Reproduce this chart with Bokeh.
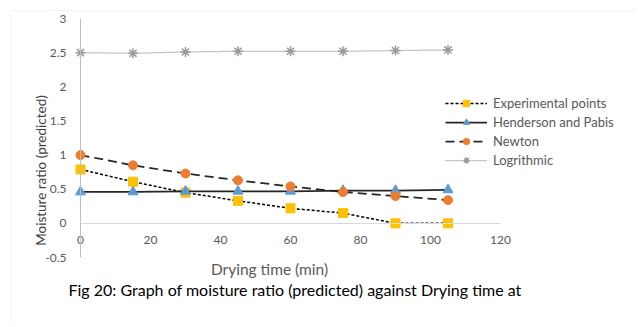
import math
from bokeh.plotting import figure
from bokeh.models import Range1d, FixedTicker, Legend, LegendItem, Label, BoxAnnotation
from bokeh.embed import file_html
from bokeh.resources import INLINE

# ---- data ----
time_min = [0, 15, 30, 45, 60, 75, 90, 105]
experimental = [0.79, 0.61, 0.45, 0.33, 0.22, 0.15, 0.0, 0.0]
henderson_pabis = [0.46, 0.46, 0.47, 0.47, 0.47, 0.48, 0.48, 0.49]
newton = [1.0, 0.85, 0.73, 0.63, 0.54, 0.46, 0.40, 0.34]
logarithmic = [2.50, 2.49, 2.51, 2.52, 2.52, 2.52, 2.53, 2.54]

x_ticks = [0, 20, 40, 60, 80, 100, 120]
y_ticks = [-0.5, 0, 0.5, 1, 1.5, 2, 2.5, 3]
y_tick_labels = ["-0.5", "0", "0.5", "1", "1.5", "2", "2.5", "3"]
series_names = ["Experimental points", "Henderson and Pabis", "Newton", "Logrithmic"]

x_title = "Drying time (min)"
y_title = "Moisture ratio (predicted)"
caption = "Fig 20: Graph of moisture ratio (predicted) against Drying time at"

FONT = "Lato"
TXT = "#595959"

# ---- layout: the plot frame covers the whole canvas; axes cross inside it ----
W, H = 636, 325
X0, X1 = x_ticks[0], x_ticks[-1]
Y0, Y1 = y_ticks[0], y_ticks[-1]
px_left, px_right = 80, 500      # pixel columns of x = X0 and x = X1
px_top, px_bottom = 18, 257      # pixel rows of y = Y1 and y = Y0
sx = (px_right - px_left) / (X1 - X0)
sy = (px_bottom - px_top) / (Y1 - Y0)
x_range = Range1d(X0 - px_left / sx, X1 + (W - px_right) / sx)
y_range = Range1d(Y0 - (H - px_bottom) / sy, Y1 + px_top / sy)

p = figure(frame_width=W, frame_height=H, min_border=0,
           x_range=x_range, y_range=y_range,
           output_backend="svg", toolbar_location=None)

p.xgrid.visible = False
p.ygrid.visible = False
p.outline_line_color = None
p.background_fill_color = "white"
p.border_fill_color = "white"

xa = p.xaxis[0]
xa.ticker = FixedTicker(ticks=x_ticks)
xa.fixed_location = 0
xa.bounds = (X0, X1)
xa.axis_line_color = "#d9d9d9"
xa.axis_line_width = 1
xa.major_tick_line_color = None
xa.minor_tick_line_color = None
xa.major_tick_out = 0
xa.major_tick_in = 0
xa.major_label_standoff = 13
xa.major_label_text_font = FONT
xa.major_label_text_font_size = "12px"
xa.major_label_text_color = TXT

ya = p.yaxis[0]
ya.ticker = FixedTicker(ticks=y_ticks)
ya.major_label_overrides = {t: l for t, l in zip(y_ticks, y_tick_labels)}
ya.fixed_location = 0
ya.bounds = (Y0, Y1)
ya.axis_line_color = "#bfbfbf"
ya.axis_line_width = 1
ya.major_tick_line_color = None
ya.minor_tick_line_color = None
ya.major_tick_out = 0
ya.major_tick_in = 0
ya.major_label_standoff = 14
ya.major_label_text_font = FONT
ya.major_label_text_font_size = "12px"
ya.major_label_text_color = TXT

# ---- series ----
l1 = p.line(time_min, experimental, line_color="black", line_dash="3 2", line_width=1.5)
m1 = p.scatter(time_min, experimental, marker="square", size=9,
               fill_color="#ffc000", line_color="#ffc000")
l2 = p.line(time_min, henderson_pabis, line_color="#262626", line_width=1.75)
m2 = p.scatter(time_min, henderson_pabis, marker="triangle", size=10,
               fill_color="#5b9bd5", line_color="#5b9bd5")
l3 = p.line(time_min, newton, line_color="#262626", line_dash="9 5", line_width=1.75)
m3 = p.scatter(time_min, newton, marker="circle", size=9,
               fill_color="#ed7d31", line_color="#ed7d31")
l4 = p.line(time_min, logarithmic, line_color="#8c8c8c", line_dash="1 1", line_width=1.25)
m4 = p.scatter(time_min, logarithmic, marker="asterisk", size=10,
               line_color="#9a9a9a", line_width=1.5)

legend = Legend(items=[LegendItem(label=series_names[0], renderers=[l1, m1]),
                       LegendItem(label=series_names[1], renderers=[l2, m2]),
                       LegendItem(label=series_names[2], renderers=[l3, m3]),
                       LegendItem(label=series_names[3], renderers=[l4, m4])],
                location=(445, H - 168), padding=0, margin=0,
                border_line_color=None, background_fill_alpha=0,
                glyph_width=42, glyph_height=16, label_height=16,
                spacing=3, label_standoff=6,
                label_text_font=FONT, label_text_font_size="13px",
                label_text_color=TXT)
p.add_layout(legend)

# outer chart border (top and left edges visible)
p.add_layout(BoxAnnotation(left=10, right=W + 50, top=H - 10, bottom=-50,
                           left_units="screen", right_units="screen",
                           top_units="screen", bottom_units="screen",
                           fill_alpha=0, line_color="#d9d9d9", line_width=1))

p.add_layout(Label(x=40, y=H - 170, x_units="screen", y_units="screen", text=y_title,
                   angle=math.pi / 2, text_align="center", text_baseline="middle",
                   text_font=FONT, text_font_size="13.5px", text_color="#404040"))
p.add_layout(Label(x=269, y=H - 268, x_units="screen", y_units="screen", text=x_title,
                   text_align="center", text_baseline="middle",
                   text_font=FONT, text_font_size="15.5px", text_color=TXT))
p.add_layout(Label(x=68, y=H - 289, x_units="screen", y_units="screen", text=caption,
                   text_align="left", text_baseline="middle",
                   text_font=FONT, text_font_size="16px", text_color="black"))

open("out.html", "w").write(file_html(p, INLINE))
